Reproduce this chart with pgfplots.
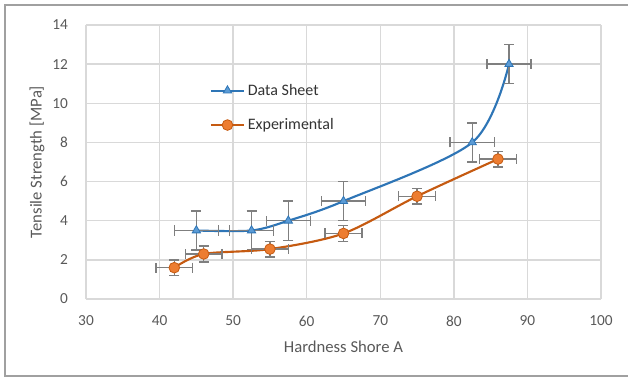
\documentclass[border=0pt]{standalone}
\usepackage{fontspec}
\setmainfont{Carlito}
\usepackage{pgfplots}
\pgfplotsset{compat=1.18}
\definecolor{dsline}{RGB}{46,117,182}
\definecolor{dsfill}{RGB}{91,155,213}
\definecolor{exline}{RGB}{197,90,17}
\definecolor{exfill}{RGB}{237,125,49}
\definecolor{errc}{RGB}{127,127,127}
\definecolor{gridc}{RGB}{217,217,217}
\definecolor{txt}{RGB}{89,89,89}
\definecolor{frame}{RGB}{160,160,160}
\begin{document}
\begin{tikzpicture}
\begin{axis}[
  scale only axis,
  width=386.25pt, height=205.5pt,
  xmin=30, xmax=100, ymin=0, ymax=14,
  xtick={30,40,...,100}, ytick={0,2,...,14},
  grid=major,
  major grid style={draw=gridc, line width=1pt},
  axis line style={draw=none},
  major tick length=0pt,
  /pgf/number format/assume math mode=true,
  tick label style={font=\fontsize{11.5}{13}\selectfont, text=txt},
  xticklabel style={yshift=-9pt},
  yticklabel style={xshift=-10pt},
  xlabel={Hardness Shore A},
  ylabel={Tensile Strength [MPa]},
  label style={font=\fontsize{12.5}{14}\selectfont, text=txt},
  x label style={at={(axis description cs:0.5,-0.175)}, anchor=center},
  y label style={at={(axis description cs:-0.0951,0.5)}, anchor=center},
  legend style={at={(axis description cs:0.232,0.805)}, anchor=north west, draw=none, fill=none,
    font=\fontsize{12}{14}\selectfont, text=black!80, row sep=12pt},
  legend cell align=left,
  legend image code/.code={\draw[mark repeat=2,mark phase=2] plot coordinates {(0pt,0pt) (12.5pt,0pt) (25pt,0pt)};},
  error bars/error bar style={draw=errc, line width=1.1pt},
  error bars/error mark options={rotate=90, draw=errc, mark size=3.75pt, line width=1.1pt},
]
\addplot[color=dsline, line width=1.6pt, smooth, tension=0.5,
  mark=triangle*, mark size=3.6pt, mark options={fill=dsfill, draw=dsline, line width=0.6pt},
  error bars/.cd, x dir=both, x explicit, y dir=both, y explicit]
  coordinates {
  (45,3.5) +- (3,1)
  (52.5,3.5) +- (3,1)
  (57.5,4) +- (3,1)
  (65,5) +- (3,1)
  (82.5,8) +- (3,1)
  (87.5,12) +- (3,1)
};
\addlegendentry{Data Sheet}
\addplot[color=exline, line width=1.6pt, smooth, tension=0.5,
  mark=*, mark size=4pt, mark options={fill=exfill, draw=exline, line width=0.6pt},
  error bars/.cd, x dir=both, x explicit, y dir=both, y explicit]
  coordinates {
  (42,1.6) +- (2.5,0.4)
  (46,2.3) +- (2.5,0.4)
  (55,2.55) +- (2.5,0.4)
  (65,3.35) +- (2.5,0.4)
  (75,5.25) +- (2.5,0.4)
  (86,7.15) +- (2.5,0.4)
};
\addlegendentry{Experimental}
\end{axis}
\path[use as bounding box] ([xshift=-64.5pt,yshift=-59.25pt]current axis.south west) rectangle ([xshift=406.5pt,yshift=224.25pt]current axis.south west);
\draw[frame, line width=1.3pt]
  ([xshift=410pt,yshift=-57.75pt]current axis.south west) --
  ([xshift=-60.75pt,yshift=-57.75pt]current axis.south west) --
  ([xshift=-60.75pt,yshift=220.5pt]current axis.south west) --
  ([xshift=410pt,yshift=220.5pt]current axis.south west);
\end{tikzpicture}
\end{document}
